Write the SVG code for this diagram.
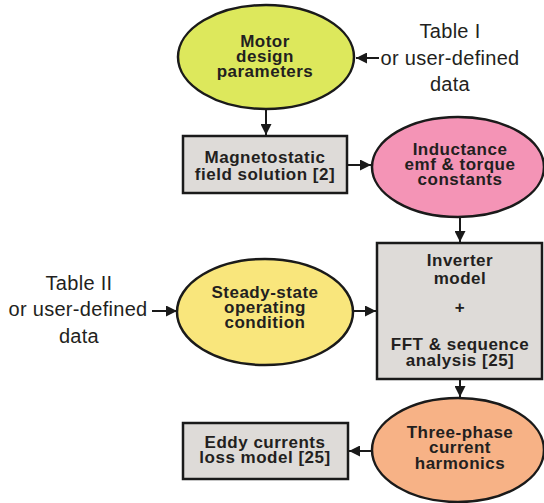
<svg xmlns="http://www.w3.org/2000/svg" width="544" height="503" viewBox="0 0 544 503">
<defs>
<marker id="ah" viewBox="0 0 10 10" refX="10" refY="5" markerWidth="11" markerHeight="11" markerUnits="userSpaceOnUse" orient="auto">
<path d="M0,0 L10,5 L0,10 Z" fill="#1a1a1a"/>
</marker>
<style>
.n{stroke:#1a1a1a;stroke-width:2.5}
.b{font-family:"Liberation Sans",Arial,sans-serif;font-weight:bold;font-size:17px;letter-spacing:0.5px;fill:#231f20;text-anchor:middle}
.r{font-family:"Liberation Sans",Arial,sans-serif;font-size:20px;letter-spacing:0.3px;fill:#231f20;text-anchor:middle}
.c{stroke:#1a1a1a;stroke-width:2;fill:none;marker-end:url(#ah)}
</style>
</defs>
<rect width="544" height="503" fill="#ffffff"/>
<g id="motor">
<ellipse class="n" cx="266" cy="57" rx="88" ry="52" fill="#dde85c"/>
<text class="b" x="265" y="47">Motor</text>
<text class="b" x="265" y="62">design</text>
<text class="b" x="265" y="77">parameters</text>
</g>
<g id="table1">
<text class="r" x="450" y="38">Table I</text>
<text class="r" x="450" y="65">or user-defined</text>
<text class="r" x="450" y="91">data</text>
</g>
<g id="magneto">
<rect class="n" x="183" y="136" width="164" height="57" fill="#dedbd8"/>
<text class="b" x="265" y="163">Magnetostatic</text>
<text class="b" x="265" y="180">field solution [2]</text>
</g>
<g id="inductance">
<ellipse class="n" cx="458" cy="167" rx="86" ry="50" fill="#f494b6"/>
<text class="b" x="460" y="155">Inductance</text>
<text class="b" x="460" y="170">emf &amp; torque</text>
<text class="b" x="460" y="185">constants</text>
</g>
<g id="inverter">
<rect class="n" x="377" y="243" width="165" height="136" fill="#dedbd8"/>
<text class="b" x="460" y="266">Inverter</text>
<text class="b" x="460" y="284">model</text>
<text class="b" x="460" y="313">+</text>
<text class="b" x="460" y="350">FFT &amp; sequence</text>
<text class="b" x="460" y="366">analysis [25]</text>
</g>
<g id="table2">
<text class="r" x="79" y="290">Table II</text>
<text class="r" x="78" y="316">or user-defined</text>
<text class="r" x="79" y="343">data</text>
</g>
<g id="steady">
<ellipse class="n" cx="265" cy="312" rx="88" ry="53" fill="#f9e67c"/>
<text class="b" x="265" y="298">Steady-state</text>
<text class="b" x="265" y="313">operating</text>
<text class="b" x="265" y="328">condition</text>
</g>
<g id="threephase">
<ellipse class="n" cx="458" cy="450" rx="86" ry="52" fill="#f7b286"/>
<text class="b" x="460" y="438">Three-phase</text>
<text class="b" x="460" y="453">current</text>
<text class="b" x="460" y="469">harmonics</text>
</g>
<g id="eddy">
<rect class="n" x="183" y="423" width="165" height="56" fill="#dedbd8"/>
<text class="b" x="265" y="448">Eddy currents</text>
<text class="b" x="265" y="463">loss model [25]</text>
</g>
<g id="connectors">
<line class="c" x1="379" y1="58" x2="356" y2="58"/>
<line class="c" x1="266" y1="110" x2="266" y2="135"/>
<line class="c" x1="348" y1="165" x2="371" y2="165"/>
<line class="c" x1="460" y1="218" x2="460" y2="242"/>
<line class="c" x1="152" y1="311" x2="177" y2="311"/>
<line class="c" x1="354" y1="311" x2="376" y2="311"/>
<line class="c" x1="460" y1="380" x2="460" y2="397"/>
<line class="c" x1="372" y1="451" x2="349" y2="451"/>
</g>
</svg>
